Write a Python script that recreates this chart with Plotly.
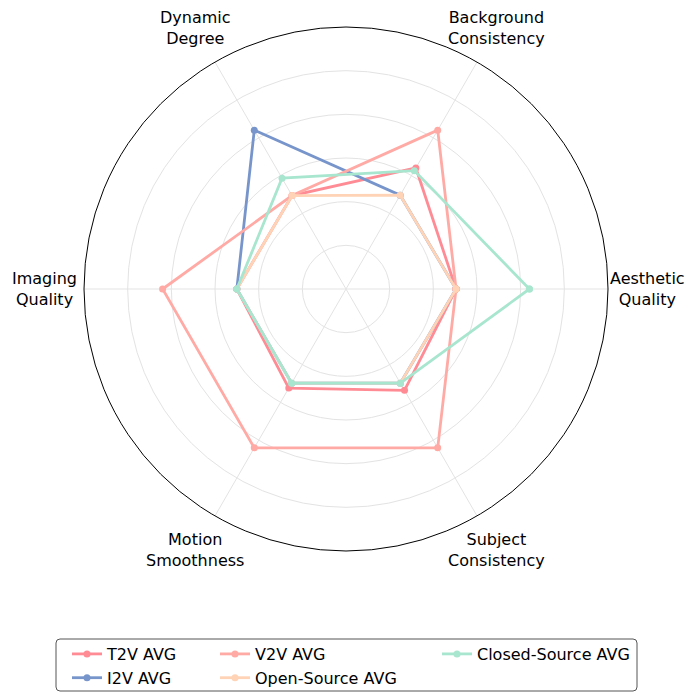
import math
import plotly.graph_objects as go

categories = ["Aesthetic Quality", "Background Consistency", "Dynamic Degree",
              "Imaging Quality", "Motion Smoothness", "Subject Consistency"]
axis_labels = ["Aesthetic<br>Quality", "Background<br>Consistency", "Dynamic<br>Degree",
               "Imaging<br>Quality", "Motion<br>Smoothness", "Subject<br>Consistency"]

t2v_avg = [0.504, 0.640, 0.494, 0.500, 0.524, 0.536]
i2v_avg = [0.504, 0.496, 0.840, 0.500, 0.498, 0.498]
v2v_avg = [0.504, 0.840, 0.494, 0.840, 0.840, 0.840]
open_source_avg = [0.504, 0.496, 0.494, 0.500, 0.498, 0.498]
closed_source_avg = [0.840, 0.626, 0.586, 0.500, 0.498, 0.498]

# name, values, colour, legend column
series = [
    ("T2V AVG", t2v_avg, "#FF8B94", "legend"),
    ("I2V AVG", i2v_avg, "#7895CB", "legend"),
    ("V2V AVG", v2v_avg, "#FFAAA5", "legend2"),
    ("Open-Source AVG", open_source_avg, "#FFD3B6", "legend2"),
    ("Closed-Source AVG", closed_source_avg, "#A8E6CF", "legend3"),
]

# page body has an 8px margin, so the figure is sized to fit the window
W, H = 690, 691
ML, MR, MT, MB = 76, 90, 19, 148
pw, ph = W - ML - MR, H - MT - MB
R_MAX = 1.2
LABEL_DIST = 0.576  # label centre distance from the middle, in plot-area fractions


def px_x(x):
    return (x - ML) / pw


def px_y(y):
    return (H - MB - y) / ph


fig = go.Figure()
for name, vals, color, leg in series:
    # close the loop back to the first axis
    fig.add_trace(go.Scatterpolar(r=vals + vals[:1],
                                  theta=categories + categories[:1],
                                  mode="lines+markers",
                                  line=dict(color=color, width=2.8),
                                  marker=dict(color=color, size=7),
                                  name=name,
                                  legend=leg))

# axis labels centred outside the ring, matplotlib style
annotations = []
n = len(categories)
for i, lab in enumerate(axis_labels):
    ang = 2 * math.pi * i / n
    annotations.append(dict(xref="paper", yref="paper",
                            x=0.5 + LABEL_DIST * math.cos(ang),
                            y=0.5 + LABEL_DIST * math.sin(ang),
                            text=lab, showarrow=False, align="center",
                            xanchor="center", yanchor="middle",
                            font=dict(size=16, color="black")))

legend_style = dict(orientation="v", yanchor="top", xanchor="left",
                    bgcolor="rgba(0,0,0,0)", borderwidth=0,
                    font=dict(size=16), tracegroupgap=0)

# rounded legend frame
x0, x1, y0, y1, rr = 48, 629, 631, 683, 4
frame = (f"M {px_x(x0 + rr)} {px_y(y0)} L {px_x(x1 - rr)} {px_y(y0)} "
         f"Q {px_x(x1)} {px_y(y0)} {px_x(x1)} {px_y(y0 + rr)} "
         f"L {px_x(x1)} {px_y(y1 - rr)} Q {px_x(x1)} {px_y(y1)} {px_x(x1 - rr)} {px_y(y1)} "
         f"L {px_x(x0 + rr)} {px_y(y1)} Q {px_x(x0)} {px_y(y1)} {px_x(x0)} {px_y(y1 - rr)} "
         f"L {px_x(x0)} {px_y(y0 + rr)} Q {px_x(x0)} {px_y(y0)} {px_x(x0 + rr)} {px_y(y0)} Z")

fig.update_layout(
    width=W,
    height=H,
    margin=dict(l=ML, r=MR, t=MT, b=MB, autoexpand=False),
    paper_bgcolor="white",
    font=dict(family="DejaVu Sans", size=16, color="black"),
    polar=dict(
        bgcolor="white",
        radialaxis=dict(range=[0, R_MAX], tickvals=[0.2, 0.4, 0.6, 0.8, 1.0],
                        showticklabels=False, ticks="", showline=False,
                        gridcolor="#e3e3e3", gridwidth=1),
        angularaxis=dict(rotation=0, direction="counterclockwise",
                         categoryorder="array", categoryarray=categories,
                         showline=True, linecolor="black", linewidth=1,
                         gridcolor="#e3e3e3", gridwidth=1,
                         showticklabels=False, ticks=""),
    ),
    annotations=annotations,
    legend=dict(x=px_x(59), y=px_y(629), **legend_style),
    legend2=dict(x=px_x(207), y=px_y(629), **legend_style),
    legend3=dict(x=px_x(429), y=px_y(629), **legend_style),
    shapes=[dict(type="path", xref="paper", yref="paper", path=frame,
                 line=dict(color="#555555", width=1), fillcolor="rgba(0,0,0,0)")],
)

fig.write_html("out.html")
